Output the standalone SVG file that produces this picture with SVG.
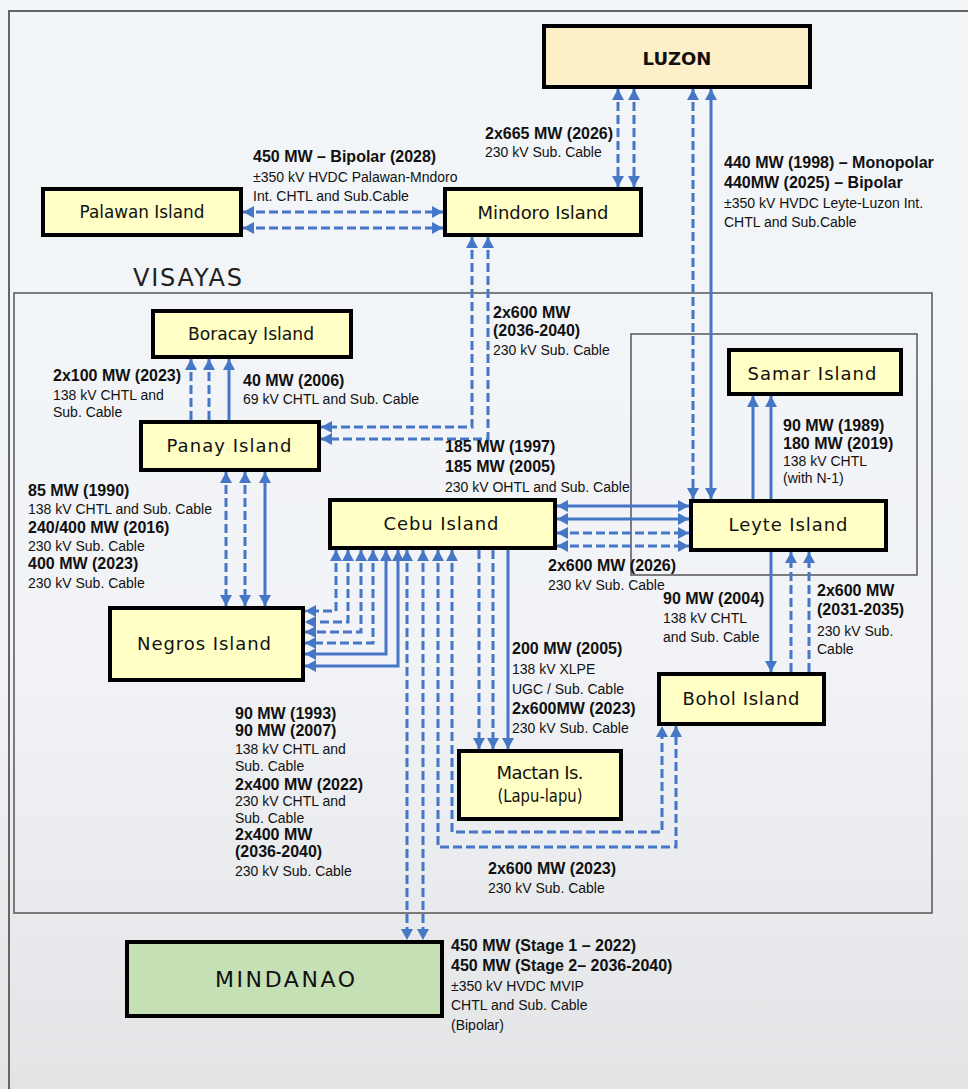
<svg xmlns="http://www.w3.org/2000/svg" width="968" height="1089" viewBox="0 0 968 1089">
<defs>
<linearGradient id="bg" x1="0" y1="0" x2="0" y2="1">
<stop offset="0" stop-color="#f3f6f9"/>
<stop offset="0.6" stop-color="#f1f3f6"/>
<stop offset="1" stop-color="#e2e4e6"/>
</linearGradient>
<marker id="ah" viewBox="0 0 11 12" refX="11" refY="6" markerWidth="11" markerHeight="12" markerUnits="userSpaceOnUse" orient="auto-start-reverse">
<path d="M0,0 L11,6 L0,12 z" fill="#4677c6"/>
</marker>
<style>
.n rect{fill:#ffffc6;stroke:#000;stroke-width:4;}
.n text{font-family:"DejaVu Sans",sans-serif;font-size:18px;fill:#111;text-anchor:middle;}
.c{fill:none;stroke:#4677c6;stroke-width:3;}
.d{stroke-dasharray:9 4;}
.a2{marker-start:url(#ah);marker-end:url(#ah);}
.ae{marker-end:url(#ah);}
.lb text{font-family:"Liberation Sans",Arial,sans-serif;font-size:14px;fill:#111;}
.lb text.b{font-weight:bold;font-size:16px;}
.frame{fill:none;stroke:#666;stroke-width:2;}
.grp{fill:none;stroke:#555;stroke-width:1.5;}
</style>
</defs>
<rect width="968" height="1089" fill="url(#bg)"/>
<path class="frame" d="M9,1089 V11 H968"/>
<rect class="grp" x="14" y="293" width="918" height="620"/>
<rect class="grp" x="631" y="334" width="286" height="241"/>
<text x="133" y="286" font-family="DejaVu Sans, sans-serif" font-size="24" fill="#222" textLength="109" lengthAdjust="spacing">VISAYAS</text>

<g id="connectors">
<path class="c d a2" d="M243,212 H443"/>
<path class="c d a2" d="M243,228 H443"/>
<path class="c d a2" d="M618,89 V187"/>
<path class="c d a2" d="M634,89 V187"/>
<path class="c d a2" d="M693,89 V499"/>
<path class="c a2" d="M711,89 V499"/>
<path class="c d a2" d="M472,237 V427 H321"/>
<path class="c d a2" d="M488,237 V439 H321"/>
<path class="c d ae" d="M191,420 V359"/>
<path class="c d ae" d="M209,420 V359"/>
<path class="c ae" d="M229,420 V359"/>
<path class="c d a2" d="M226,472 V606"/>
<path class="c d a2" d="M245,472 V606"/>
<path class="c a2" d="M265,472 V606"/>
<path class="c a2" d="M557,506 H689"/>
<path class="c a2" d="M557,519 H689"/>
<path class="c d a2" d="M557,533 H689"/>
<path class="c d a2" d="M557,546 H689"/>
<path class="c ae" d="M753,499 V396"/>
<path class="c ae" d="M771,499 V396"/>
<path class="c ae" d="M771,552 V672"/>
<path class="c d ae" d="M791,672 V552"/>
<path class="c d ae" d="M809,672 V552"/>
<path class="c d ae" d="M479,550 V749"/>
<path class="c d ae" d="M493,550 V749"/>
<path class="c ae" d="M508,550 V749"/>
<path class="c d a2" d="M336,550 V611 H305"/>
<path class="c d a2" d="M348,550 V622 H305"/>
<path class="c d a2" d="M361,550 V632 H305"/>
<path class="c d a2" d="M373,550 V643 H305"/>
<path class="c a2" d="M386,550 V654 H305"/>
<path class="c a2" d="M398,550 V666 H305"/>
<path class="c d a2" d="M407,550 V940"/>
<path class="c d a2" d="M423,550 V940"/>
<path class="c d a2" d="M438,550 V847 H676 V726"/>
<path class="c d a2" d="M452,550 V832 H662 V726"/>
</g>

<g id="connector-labels" class="lb">
<text class="b" x="253" y="162">450 MW – Bipolar (2028)</text>
<text x="253" y="182">±350 kV HVDC Palawan-Mndoro</text>
<text x="253" y="201">Int. CHTL and Sub.Cable</text>

<text class="b" x="485" y="139">2x665 MW (2026)</text>
<text x="485" y="157">230 kV Sub. Cable</text>

<text class="b" x="724" y="168">440 MW (1998) – Monopolar</text>
<text class="b" x="724" y="188">440MW (2025) – Bipolar</text>
<text x="724" y="208">±350 kV HVDC Leyte-Luzon Int.</text>
<text x="724" y="227">CHTL and Sub.Cable</text>

<text class="b" x="493" y="318">2x600 MW</text>
<text class="b" x="493" y="336">(2036-2040)</text>
<text x="493" y="355">230 kV Sub. Cable</text>

<text class="b" x="53" y="381">2x100 MW (2023)</text>
<text x="53" y="400">138 kV CHTL and</text>
<text x="53" y="417">Sub. Cable</text>

<text class="b" x="243" y="386">40 MW (2006)</text>
<text x="243" y="404">69 kV CHTL and Sub. Cable</text>

<text class="b" x="28" y="496">85 MW (1990)</text>
<text x="28" y="514">138 kV CHTL and Sub. Cable</text>
<text class="b" x="28" y="533">240/400 MW (2016)</text>
<text x="28" y="551">230 kV Sub. Cable</text>
<text class="b" x="28" y="569">400 MW (2023)</text>
<text x="28" y="588">230 kV Sub. Cable</text>

<text class="b" x="445" y="452">185 MW (1997)</text>
<text class="b" x="445" y="472">185 MW (2005)</text>
<text x="445" y="492">230 kV OHTL and Sub. Cable</text>

<text class="b" x="548" y="571">2x600 MW (2026)</text>
<text x="548" y="590">230 kV Sub. Cable</text>

<text class="b" x="783" y="431">90 MW (1989)</text>
<text class="b" x="783" y="449">180 MW (2019)</text>
<text x="783" y="466">138 kV CHTL</text>
<text x="783" y="483">(with N-1)</text>

<text class="b" x="663" y="604">90 MW (2004)</text>
<text x="663" y="623">138 kV CHTL</text>
<text x="663" y="642">and Sub. Cable</text>

<text class="b" x="817" y="596">2x600 MW</text>
<text class="b" x="817" y="615">(2031-2035)</text>
<text x="817" y="636">230 kV Sub.</text>
<text x="817" y="654">Cable</text>

<text class="b" x="512" y="654">200 MW (2005)</text>
<text x="512" y="674">138 kV XLPE</text>
<text x="512" y="694">UGC / Sub. Cable</text>
<text class="b" x="512" y="714">2x600MW (2023)</text>
<text x="512" y="733">230 kV Sub. Cable</text>

<text class="b" x="488" y="874">2x600 MW (2023)</text>
<text x="488" y="893">230 kV Sub. Cable</text>

<text class="b" x="235" y="719">90 MW (1993)</text>
<text class="b" x="235" y="736">90 MW (2007)</text>
<text x="235" y="754">138 kV CHTL and</text>
<text x="235" y="771">Sub. Cable</text>
<text class="b" x="235" y="790">2x400 MW (2022)</text>
<text x="235" y="806">230 kV CHTL and</text>
<text x="235" y="823">Sub. Cable</text>
<text class="b" x="235" y="840">2x400 MW</text>
<text class="b" x="235" y="857">(2036-2040)</text>
<text x="235" y="876">230 kV Sub. Cable</text>

<text class="b" x="451" y="951">450 MW (Stage 1 – 2022)</text>
<text class="b" x="451" y="971">450 MW (Stage 2– 2036-2040)</text>
<text x="451" y="991">±350 kV HVDC MVIP</text>
<text x="451" y="1010">CHTL and Sub. Cable</text>
<text x="451" y="1030">(Bipolar)</text>
</g>

<g id="node-luzon" class="n">
<rect x="544" y="26" width="266" height="61" style="fill:#fdf0c9"/>
<text x="677" y="65" style="font-weight:bold">LUZON</text>
</g>
<g id="node-mindoro" class="n">
<rect x="445" y="189" width="196" height="46"/>
<text x="543" y="219" textLength="131" lengthAdjust="spacing">Mindoro Island</text>
</g>
<g id="node-palawan" class="n">
<rect x="43" y="189" width="198" height="46"/>
<text x="142" y="218" textLength="125" lengthAdjust="spacingAndGlyphs">Palawan Island</text>
</g>
<g id="node-boracay" class="n">
<rect x="153" y="311" width="198" height="46"/>
<text x="251" y="340" textLength="126" lengthAdjust="spacingAndGlyphs">Boracay Island</text>
</g>
<g id="node-panay" class="n">
<rect x="141" y="422" width="178" height="48"/>
<text x="229" y="452" textLength="125" lengthAdjust="spacing">Panay Island</text>
</g>
<g id="node-samar" class="n">
<rect x="729" y="350" width="172" height="44"/>
<text x="812" y="380" textLength="129" lengthAdjust="spacing">Samar Island</text>
</g>
<g id="node-leyte" class="n">
<rect x="691" y="501" width="195" height="49"/>
<text x="788" y="531" textLength="119" lengthAdjust="spacing">Leyte Island</text>
</g>
<g id="node-cebu" class="n">
<rect x="330" y="500" width="225" height="48"/>
<text x="441" y="530" textLength="115" lengthAdjust="spacing">Cebu Island</text>
</g>
<g id="node-negros" class="n">
<rect x="110" y="608" width="193" height="72"/>
<text x="204" y="650" textLength="134" lengthAdjust="spacing">Negros Island</text>
</g>
<g id="node-mactan" class="n">
<rect x="459" y="751" width="162" height="68"/>
<text x="540" y="779" textLength="87" lengthAdjust="spacing">Mactan Is.</text>
<text x="540" y="802" textLength="85" lengthAdjust="spacingAndGlyphs">(Lapu-lapu)</text>
</g>
<g id="node-bohol" class="n">
<rect x="659" y="674" width="165" height="50"/>
<text x="741" y="705" textLength="117" lengthAdjust="spacing">Bohol Island</text>
</g>
<g id="node-mindanao" class="n">
<rect x="127" y="942" width="315" height="74" style="fill:#c5e0b4"/>
<text x="285" y="987" style="font-size:22px" textLength="140" lengthAdjust="spacing">MINDANAO</text>
</g>
</svg>
